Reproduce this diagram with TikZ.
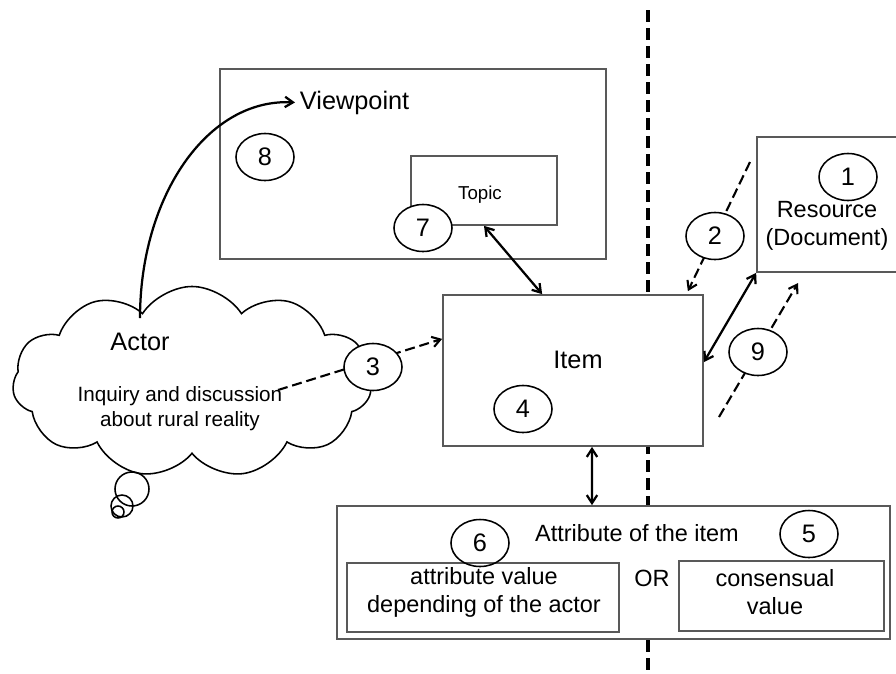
\documentclass[tikz,border=0pt]{standalone}
\usepackage{fontspec}
\setmainfont{Liberation Sans}
\usetikzlibrary{arrows.meta,shapes.geometric,shapes.symbols}
\newcommand{\bigtxt}{\fontsize{18}{21}\selectfont}
\newcommand{\midtxt}{\fontsize{16.7}{19.8}\selectfont}
\newcommand{\smalltxt}{\fontsize{14.7}{17.7}\selectfont}
\newcommand{\tinytxt}{\fontsize{13.3}{16}\selectfont}

\begin{document}
\begin{tikzpicture}[x=0.025cm,y=-0.025cm,
  >={Straight Barb[length=2mm,width=2.6mm]},
  box/.style={draw=black!65,line width=1.2pt,fill=white,inner sep=0pt},
  num/.style={ellipse,draw,line width=1.1pt,fill=white,minimum width=1.45cm,minimum height=1.175cm,inner sep=0pt,font=\bigtxt},
  link/.style={line width=1.6pt},
  dlink/.style={line width=1.5pt,dash pattern=on 2.5mm off 1.2mm}]
\useasboundingbox (0,0) rectangle (896,673);
\clip (0,0) rectangle (896,673);
\coordinate (sepA) at (648,10);
\coordinate (sepB) at (648,673);
\draw[line width=2.6pt,dash pattern=on 3mm off 1.5mm] (sepA) -- (sepB);

\node[cloud,cloud puffs=11,cloud puff arc=115,aspect=1.9,draw,line width=1.1pt,fill=white,
  minimum width=8.975cm,minimum height=4.775cm] (cloud) at (192,382) {};
\foreach \cx/\cy/\r in {132/489/17,122/506/11,118/512/6}
  \draw[line width=1.1pt] (\cx,\cy) circle (\r);

\node[box,minimum width=9.65cm,minimum height=4.75cm] (vpbox) at (413,164) {};
\node[box,minimum width=3.65cm,minimum height=1.725cm] (topicbox) at (484,190.5) {};
\node[box,minimum width=6.5cm,minimum height=3.775cm] (itembox) at (573,370.5) {};
\node[box,minimum width=3.825cm,minimum height=3.375cm] (resbox) at (833.5,204.5) {};
\node[box,minimum width=13.825cm,minimum height=3.325cm] (attrbox) at (613.5,572.5) {};
\node[box,minimum width=6.8cm,minimum height=1.725cm] (actval) at (483,597.5) {};
\node[box,minimum width=5.125cm,minimum height=1.75cm] (consval) at (781.5,596) {};

\node[font=\bigtxt,anchor=base west] (vptxt) at (295,109) {Viewpoint};
\node[font=\tinytxt] (topictxt) at (480,195) {Topic};
\node[font=\bigtxt] (itemtxt) at (578,360) {Item};
\node[font=\bigtxt] (actortxt) at (140,342) {Actor};
\node[font=\smalltxt,align=center] (inqtxt) at (180,409) {Inquiry and discussion\\about rural reality};
\node[font=\midtxt,align=center] (restxt) at (827,226) {Resource\\(Document)};
\node[font=\midtxt] (attrtxt) at (637,533) {Attribute of the item};
\node[font=\midtxt,align=center] (actvaltxt) at (484,592) {attribute value\\depending of the actor};
\node[font=\midtxt] (ortxt) at (652,578) {OR};
\node[font=\midtxt,align=center] (consvaltxt) at (775,592) {consensual\\value};

\coordinate (actstart) at (140,318);
\coordinate (d3) at (278,390);
\coordinate (d2) at (750,162);
\coordinate (d9a) at (719,417);
\coordinate (d9b) at (798,283);
\draw[link,->] (actstart) .. controls (140,197) and (207,98) .. (vptxt.west);
\draw[link,<->] (topicbox.south) -- ([xshift=2.5cm]itembox.north west);
\draw[dlink,->] (d3) -- ([yshift=0.79cm]itembox.west);
\draw[dlink,->] (d2) -- ([xshift=-0.4cm,yshift=0.075cm]itembox.north east);
\draw[link,<->] (resbox.south west) -- ([yshift=0.21cm]itembox.east);
\draw[dlink,->] (d9a) -- (d9b);
\draw[link,<->] ([xshift=0.475cm]itembox.south) -- ([xshift=-0.5375cm]attrbox.north);

\foreach \n/\px/\py in {1/848/177,2/715/236,3/373/367,4/523/409,5/809/534,7/423/228,8/265/157,9/758/352}
  \node[num] (n\n) at (\px,\py) {\n};
\node[num,fill=none] (n6) at (480,543) {6};
\end{tikzpicture}
\end{document}
